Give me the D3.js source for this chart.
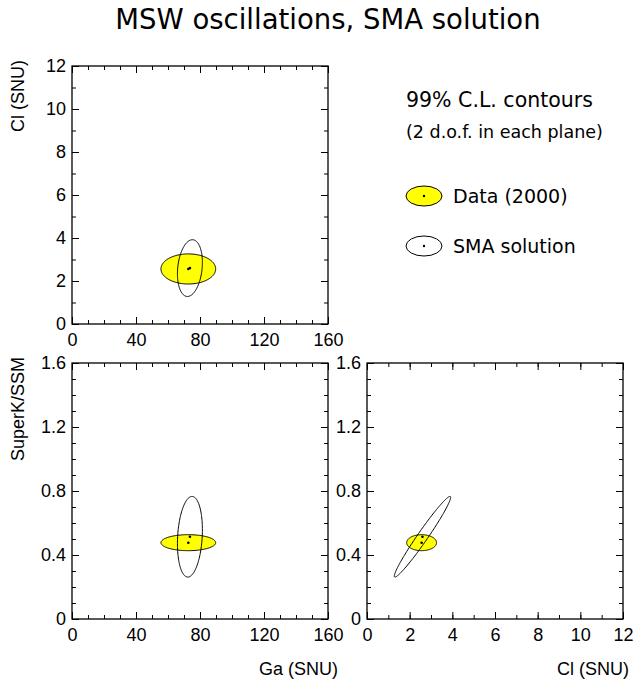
<!DOCTYPE html>
<html>
<head>
<meta charset="utf-8">
<script src="https://cdn.jsdelivr.net/npm/d3@7"></script>
<style>
  body { margin: 0; background: #fff; }
  svg { display: block; }
  .tick text { font-family: "Liberation Sans", Arial, sans-serif; font-size: 18px; fill: #000; }
  .domain { display: none; }
  .tick line { stroke: #000; stroke-width: 1; }
</style>
</head>
<body>
<svg id="chart" width="635" height="681"></svg>
<script>
// quantities: Ga rate, Cl rate, SuperK/SSM ratio
var names = ["Ga (SNU)", "Cl (SNU)", "SuperK/SSM"];
var domains = [[0, 160], [0, 12], [0, 1.6]];
var majorTicks = [[0, 40, 80, 120, 160], [0, 2, 4, 6, 8, 10, 12], [0, 0.4, 0.8, 1.2, 1.6]];
var minorStep = [10, 1, 0.1];

// data (2000) best fit and 99% C.L. half widths
var dataBest = [72.7, 2.56, 0.477];
var dataHalf = [17.1, 0.70, 0.05];
// SMA solution
var smaBest = [73.7, 2.60, 0.514];
var smaHalf = [7.8, 1.32, 0.252];
// correlations for pairs Ga-Cl, Ga-SK, Cl-SK
var pairs = [[0, 1], [0, 2], [1, 2]];
var dataCorr = [0, 0, 0];
var smaCorr = [0.2, 0.17, 0.976];

var svg = d3.select("#chart");
var font = "'DejaVu Sans', sans-serif";

svg.append("text")
    .attr("x", 328).attr("y", 29)
    .attr("text-anchor", "middle")
    .style("font-family", font)
    .style("font-size", "27.5px")
    .text("MSW oscillations, SMA solution");

// panel frames
var boxes = [
    { x0: 72, x1: 328, y0: 66, y1: 324 },
    { x0: 72, x1: 328, y0: 363, y1: 619 },
    { x0: 367, x1: 623, y0: 363, y1: 619 }
];

function ellipse(c, h, rho, ix, iy, xs, ys) {
    var s = Math.sqrt(1 - rho * rho);
    var pts = d3.range(0, 2 * Math.PI, Math.PI / 90).map(function (t) {
        return [xs(c[ix] + h[ix] * Math.cos(t)),
                ys(c[iy] + h[iy] * (rho * Math.cos(t) + s * Math.sin(t)))];
    });
    return d3.line().curve(d3.curveLinearClosed)(pts);
}

pairs.forEach(function (p, k) {
    var b = boxes[k];
    var ix = p[0], iy = p[1];
    var xs = d3.scaleLinear().domain(domains[ix]).range([b.x0, b.x1]);
    var ys = d3.scaleLinear().domain(domains[iy]).range([b.y1, b.y0]);
    var g = svg.append("g");

    var minX = d3.range(domains[ix][0], domains[ix][1] + 1e-9, minorStep[ix]);
    var minY = d3.range(domains[iy][0], domains[iy][1] + 1e-9, minorStep[iy]);

    // minor ticks on all four sides
    g.append("g").attr("transform", "translate(0," + b.y1 + ")")
        .call(d3.axisBottom(xs).tickValues(minX).tickSize(-4).tickFormat(""));
    g.append("g").attr("transform", "translate(0," + b.y0 + ")")
        .call(d3.axisTop(xs).tickValues(minX).tickSize(-4).tickFormat(""));
    g.append("g").attr("transform", "translate(" + b.x0 + ",0)")
        .call(d3.axisLeft(ys).tickValues(minY).tickSize(-4).tickFormat(""));
    g.append("g").attr("transform", "translate(" + b.x1 + ",0)")
        .call(d3.axisRight(ys).tickValues(minY).tickSize(-4).tickFormat(""));

    // major ticks with labels
    g.append("g").attr("transform", "translate(0," + b.y1 + ")")
        .call(d3.axisBottom(xs).tickValues(majorTicks[ix]).tickSize(-7).tickPadding(9).tickFormat(d3.format("")));
    g.append("g").attr("transform", "translate(0," + b.y0 + ")")
        .call(d3.axisTop(xs).tickValues(majorTicks[ix]).tickSize(-7).tickFormat(""));
    g.append("g").attr("transform", "translate(" + b.x0 + ",0)")
        .call(d3.axisLeft(ys).tickValues(majorTicks[iy]).tickSize(-7).tickPadding(6).tickFormat(d3.format("")));
    g.append("g").attr("transform", "translate(" + b.x1 + ",0)")
        .call(d3.axisRight(ys).tickValues(majorTicks[iy]).tickSize(-7).tickFormat(""));

    // data contour
    g.append("path")
        .attr("d", ellipse(dataBest, dataHalf, dataCorr[k], ix, iy, xs, ys))
        .attr("fill", "#ffff00").attr("stroke", "#000").attr("stroke-width", 1);
    // SMA contour
    g.append("path")
        .attr("d", ellipse(smaBest, smaHalf, smaCorr[k], ix, iy, xs, ys))
        .attr("fill", "none").attr("stroke", "#000").attr("stroke-width", 1);

    g.selectAll(".best").data([dataBest, smaBest]).enter().append("circle")
        .attr("class", "best")
        .attr("cx", function (d) { return xs(d[ix]); })
        .attr("cy", function (d) { return ys(d[iy]); })
        .attr("r", 1.3).attr("fill", "#000");

    g.append("rect")
        .attr("x", b.x0).attr("y", b.y0)
        .attr("width", b.x1 - b.x0).attr("height", b.y1 - b.y0)
        .attr("fill", "none").attr("stroke", "#000").attr("stroke-width", 1.3);
});

// axis titles
var labelStyle = function (sel) {
    sel.style("font-family", "'Liberation Sans', Arial, sans-serif").style("font-size", "18px");
};
svg.append("text").attr("x", 338).attr("y", 675).attr("text-anchor", "end").call(labelStyle).text(names[0]);
svg.append("text").attr("x", 629).attr("y", 675).attr("text-anchor", "end").call(labelStyle).text(names[1]);
svg.append("text").attr("transform", "translate(24,60) rotate(-90)").attr("text-anchor", "end").call(labelStyle).text("Cl (SNU)");
svg.append("text").attr("transform", "translate(24,357) rotate(-90)").attr("text-anchor", "end").call(labelStyle).text(names[2]);

// legend
var leg = svg.append("g").style("font-family", font);
leg.append("text").attr("x", 406).attr("y", 107).style("font-size", "20.5px").text("99% C.L. contours");
leg.append("text").attr("x", 406).attr("y", 138).style("font-size", "17.5px").text("(2 d.o.f. in each plane)");
var legItems = [
    { label: "Data (2000)", fill: "#ffff00", y: 196 },
    { label: "SMA solution", fill: "none", y: 246 }
];
legItems.forEach(function (d) {
    leg.append("ellipse").attr("cx", 424).attr("cy", d.y).attr("rx", 18).attr("ry", 10)
        .attr("fill", d.fill).attr("stroke", "#000").attr("stroke-width", 1);
    leg.append("circle").attr("cx", 424).attr("cy", d.y).attr("r", 1.2).attr("fill", "#000");
    leg.append("text").attr("x", 453).attr("y", d.y + 7).style("font-size", "19px").text(d.label);
});
</script>
</body>
</html>
